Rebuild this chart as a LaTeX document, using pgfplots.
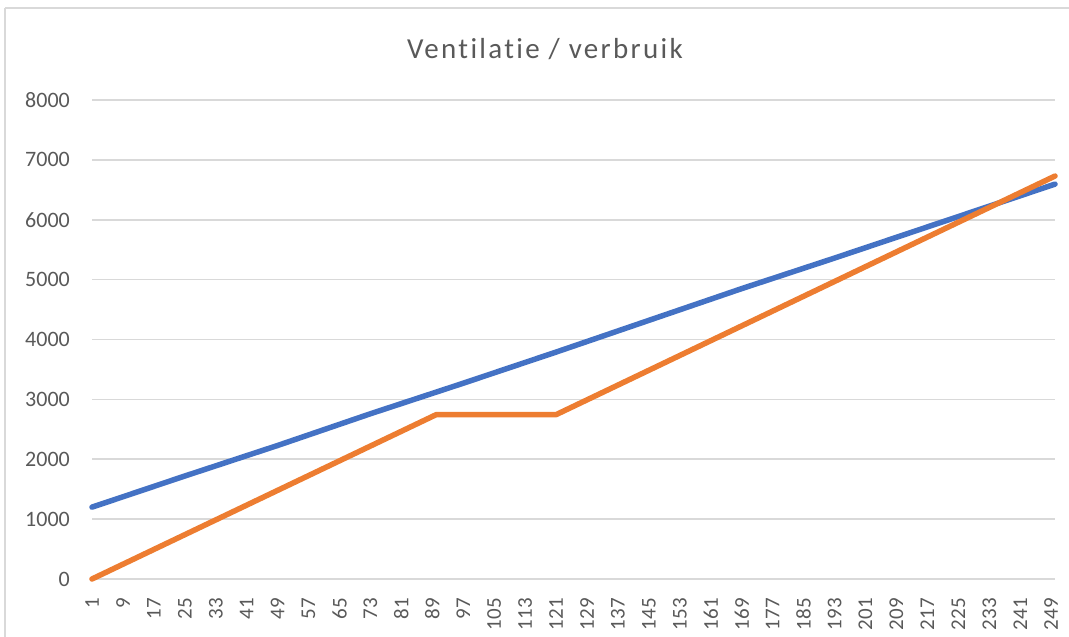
\documentclass[border=0pt]{standalone}
\usepackage{pgfplots}
\pgfplotsset{compat=1.18}
\usepackage{fontspec}
\setmainfont{Carlito}
\definecolor{txt}{HTML}{595959}
\definecolor{gridgray}{HTML}{D9D9D9}
\definecolor{cblue}{HTML}{4472C4}
\definecolor{corange}{HTML}{ED7D31}
\begin{document}
\begin{tikzpicture}[x=1pt,y=1pt]
\useasboundingbox (0,0) rectangle (1069,637);
\draw[gridgray, line width=1.5pt] (5,629) -- (1069,629);
\draw[gridgray, line width=1.5pt] (5,629) -- (5,0);
\node[txt, font=\fontsize{29}{34}\selectfont\addfontfeatures{LetterSpace=8,Ligatures=NoCommon}] at (545,588) {Ventilatie / verbruik};
\begin{axis}[
  at={(92pt,58pt)}, anchor=south west,
  scale only axis, width=963pt, height=479pt,
  xmin=1, xmax=250, ymin=0, ymax=8000,
  clip=false,
  axis line style={draw=none},
  tick style={draw=none},
  xtick={1,9,...,249},
  ytick={0,1000,...,8000},
  ymajorgrids, xmajorgrids=false,
  major grid style={gridgray, line width=1.6pt},
  /pgf/number format/assume math mode=true,
  /pgf/number format/1000 sep={},
  yticklabel style={txt, font=\fontsize{22}{26}\selectfont, inner sep=0pt, xshift=-22pt},
  xticklabel style={txt, font=\fontsize{21}{25}\selectfont, yshift=-19pt, rotate=90, anchor=east, inner sep=0pt},
]
\addplot[cblue, line width=5.5pt, line join=round, line cap=round] coordinates {
(1,1200) (25,1720) (49,2230) (73,2760) (97,3270) (121,3790) (145,4320) (169,4850) (193,5360) (217,5880) (241,6400) (250,6595)
};
\addplot[corange, line width=5.5pt, line join=round, line cap=round] coordinates {
(1,0) (90,2745) (121,2745) (250,6730)
};
\end{axis}
\end{tikzpicture}
\end{document}
